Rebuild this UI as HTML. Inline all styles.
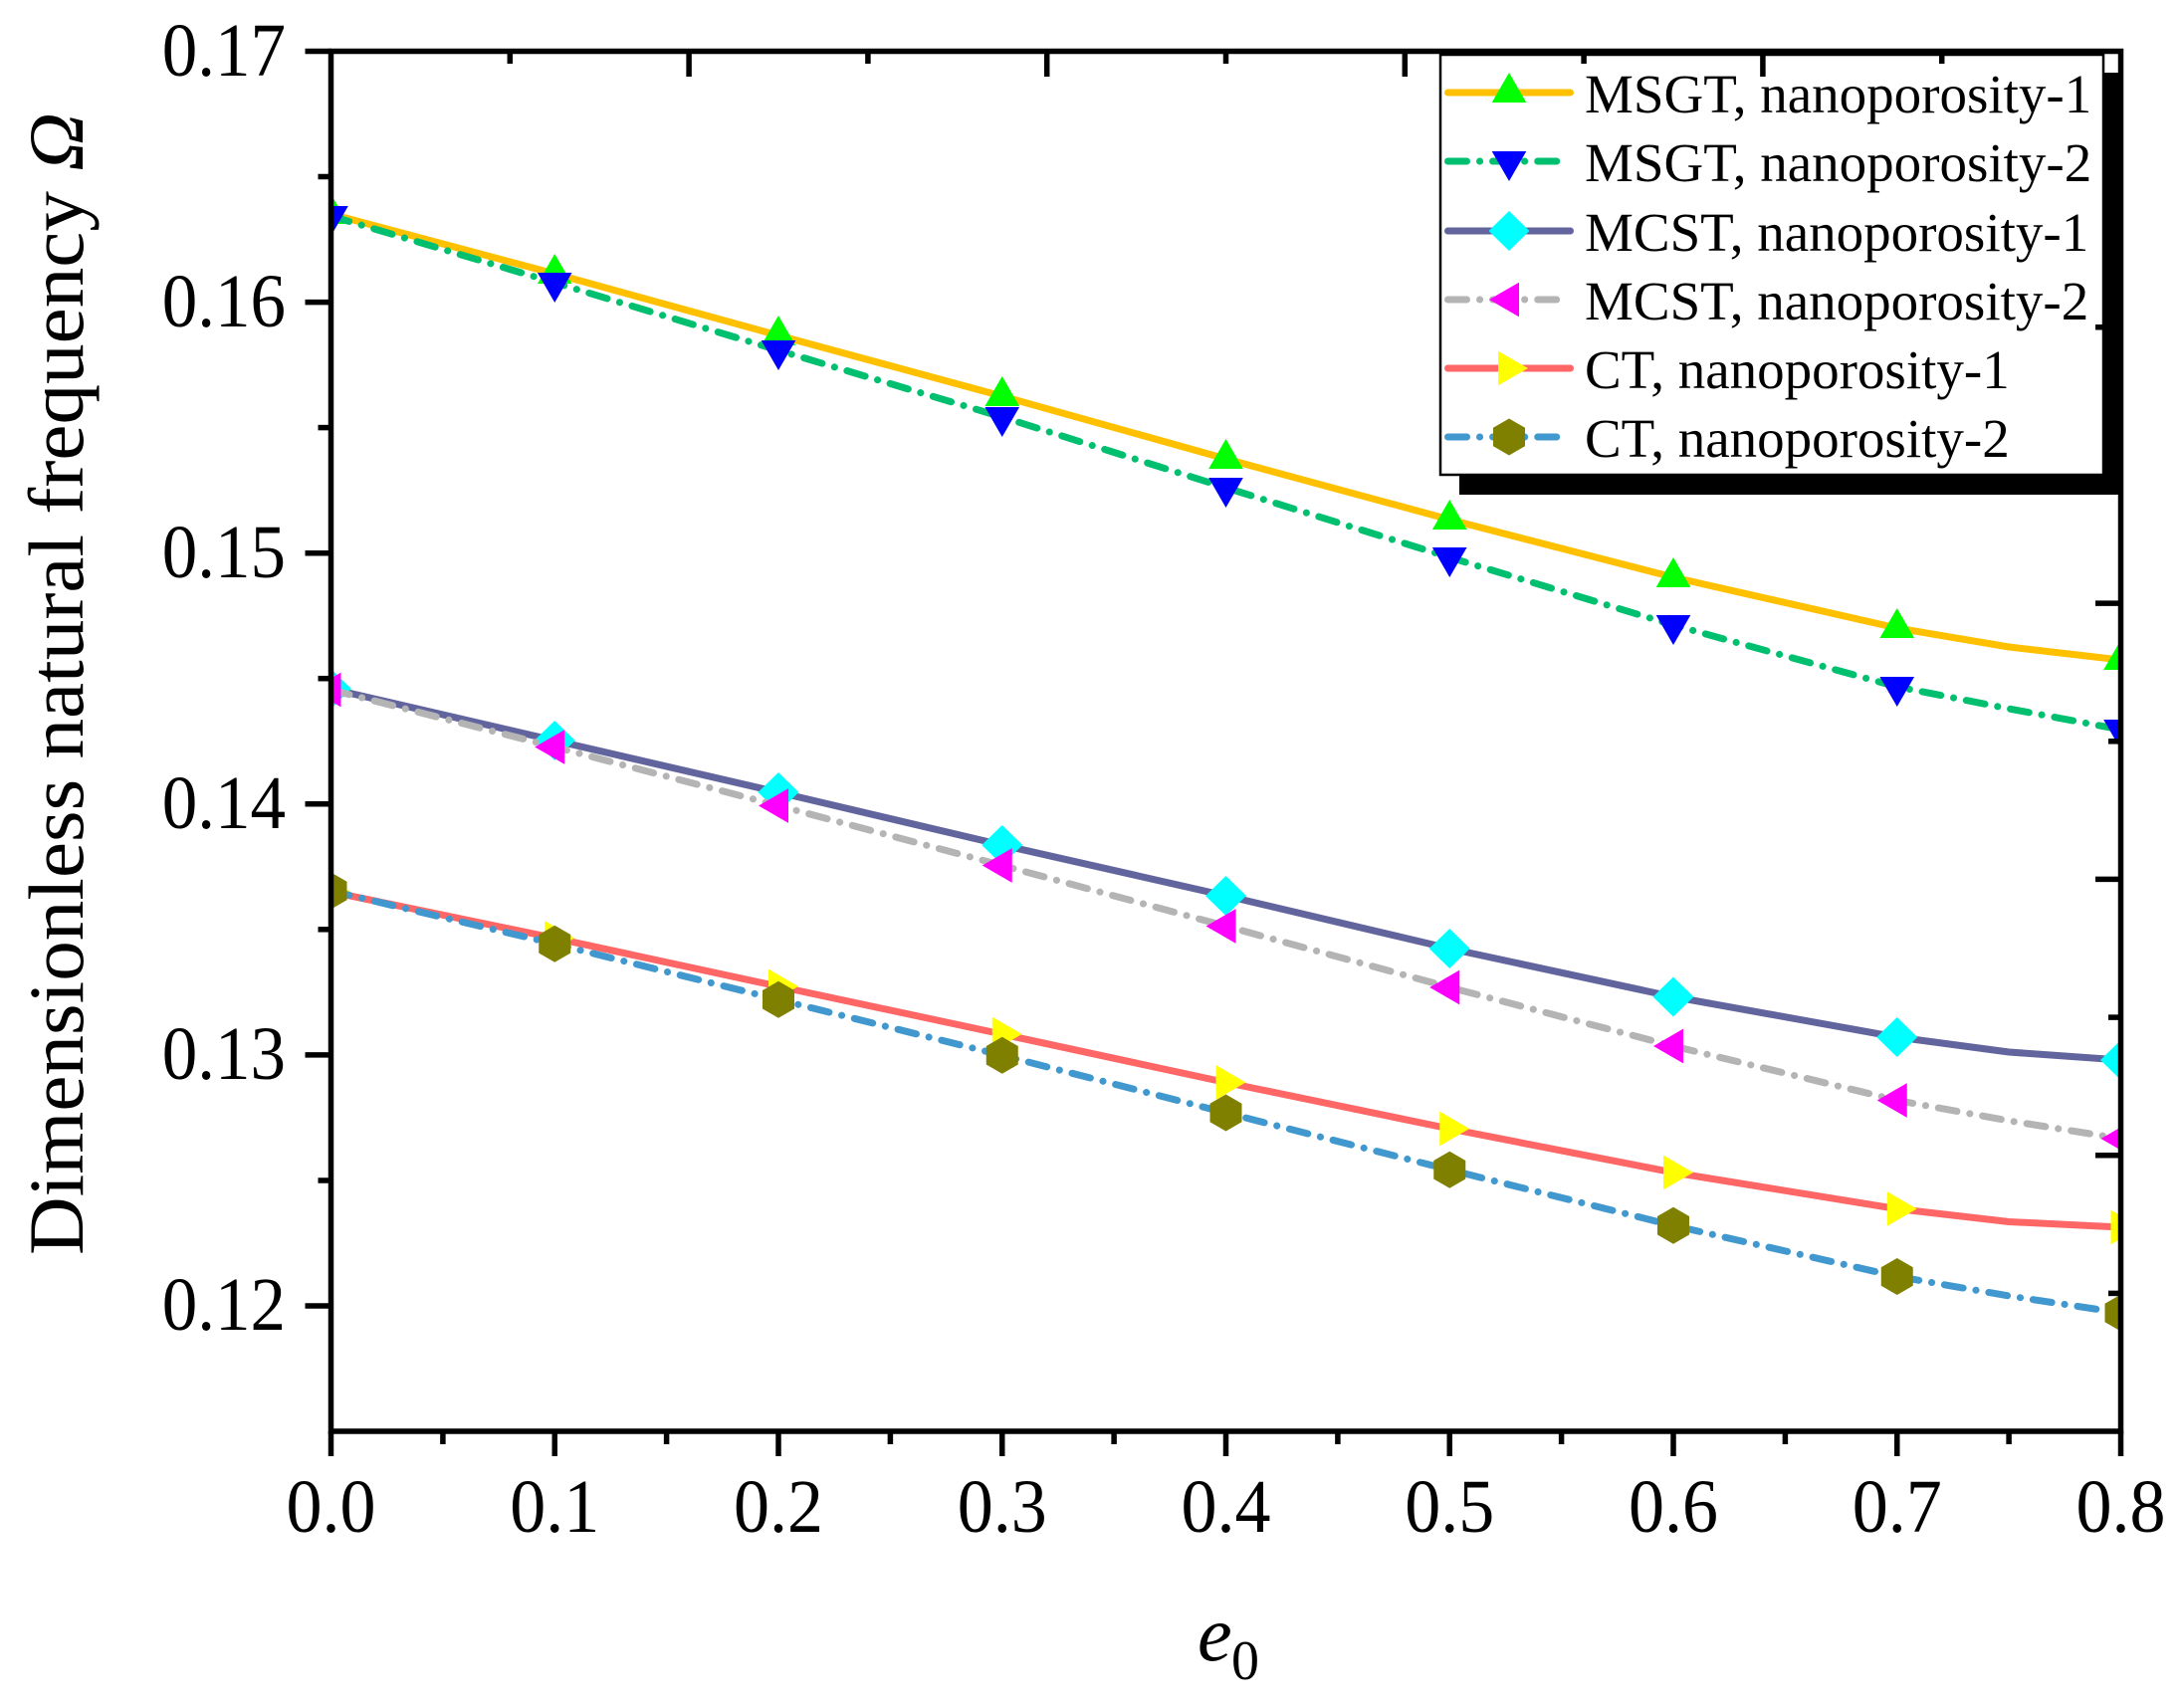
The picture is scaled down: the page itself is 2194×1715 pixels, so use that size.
<!DOCTYPE html>
<html>
<head>
<meta charset="utf-8">
<style>
  html, body { margin: 0; padding: 0; background: #ffffff; }
  svg { display: block; }
  text { font-family: "Liberation Serif", "DejaVu Serif", serif; fill: #000; }
</style>
</head>
<body>
<svg width="2194" height="1715" viewBox="0 0 2194 1715" xmlns="http://www.w3.org/2000/svg">
  <rect x="0" y="0" width="2194" height="1715" fill="#ffffff"/>
  <defs>
    <clipPath id="plot">
      <rect x="332.5" y="51.5" width="1798" height="1386.5"/>
    </clipPath>
  </defs>

  <g clip-path="url(#plot)">
    <!-- MSGT, nanoporosity-1 -->
    <polyline fill="none" stroke="#FFC000" stroke-width="7" stroke-linejoin="round"
      points="332.5,215 557.25,275 782,337 1006.75,398 1231.5,461 1456.25,522 1681,580 1905.75,631 2018.1,650 2130.5,663"/>
    <g fill="#00FF00">
      <polygon points="0,-20 17.32,10 -17.32,10" transform="translate(332.5,215)"/>
      <polygon points="0,-20 17.32,10 -17.32,10" transform="translate(557.25,275)"/>
      <polygon points="0,-20 17.32,10 -17.32,10" transform="translate(782,337)"/>
      <polygon points="0,-20 17.32,10 -17.32,10" transform="translate(1006.75,398)"/>
      <polygon points="0,-20 17.32,10 -17.32,10" transform="translate(1231.5,461)"/>
      <polygon points="0,-20 17.32,10 -17.32,10" transform="translate(1456.25,522)"/>
      <polygon points="0,-20 17.32,10 -17.32,10" transform="translate(1681,580)"/>
      <polygon points="0,-20 17.32,10 -17.32,10" transform="translate(1905.75,631)"/>
      <polygon points="0,-20 17.32,10 -17.32,10" transform="translate(2130.5,663)"/>
    </g>

    <!-- MSGT, nanoporosity-2 -->
    <polyline fill="none" stroke="#00C070" stroke-width="7" stroke-linecap="round" stroke-linejoin="round" stroke-dasharray="19 13 0.1 13"
      points="332.5,217 557.25,284 782,352 1006.75,419 1231.5,490 1456.25,560 1681,628 1905.75,690 2018.1,712 2130.5,733"/>
    <g fill="#0000FF">
      <polygon points="0,20 17.32,-10 -17.32,-10" transform="translate(332.5,217)"/>
      <polygon points="0,20 17.32,-10 -17.32,-10" transform="translate(557.25,284)"/>
      <polygon points="0,20 17.32,-10 -17.32,-10" transform="translate(782,352)"/>
      <polygon points="0,20 17.32,-10 -17.32,-10" transform="translate(1006.75,419)"/>
      <polygon points="0,20 17.32,-10 -17.32,-10" transform="translate(1231.5,490)"/>
      <polygon points="0,20 17.32,-10 -17.32,-10" transform="translate(1456.25,560)"/>
      <polygon points="0,20 17.32,-10 -17.32,-10" transform="translate(1681,628)"/>
      <polygon points="0,20 17.32,-10 -17.32,-10" transform="translate(1905.75,690)"/>
      <polygon points="0,20 17.32,-10 -17.32,-10" transform="translate(2130.5,733)"/>
    </g>

    <!-- MCST, nanoporosity-1 -->
    <polyline fill="none" stroke="#62649E" stroke-width="7" stroke-linejoin="round"
      points="332.5,692 557.25,744 782,796 1006.75,849 1231.5,900 1456.25,953 1681,1001.5 1905.75,1042 2018.1,1057 2130.5,1065"/>
    <g fill="#00FFFF">
      <polygon points="0,-20 20.5,0 0,20 -20.5,0" transform="translate(332.5,692)"/>
      <polygon points="0,-20 20.5,0 0,20 -20.5,0" transform="translate(557.25,744)"/>
      <polygon points="0,-20 20.5,0 0,20 -20.5,0" transform="translate(782,796)"/>
      <polygon points="0,-20 20.5,0 0,20 -20.5,0" transform="translate(1006.75,849)"/>
      <polygon points="0,-20 20.5,0 0,20 -20.5,0" transform="translate(1231.5,900)"/>
      <polygon points="0,-20 20.5,0 0,20 -20.5,0" transform="translate(1456.25,953)"/>
      <polygon points="0,-20 20.5,0 0,20 -20.5,0" transform="translate(1681,1001.5)"/>
      <polygon points="0,-20 20.5,0 0,20 -20.5,0" transform="translate(1905.75,1042)"/>
      <polygon points="0,-20 20.5,0 0,20 -20.5,0" transform="translate(2130.5,1065)"/>
    </g>

    <!-- MCST, nanoporosity-2 -->
    <polyline fill="none" stroke="#B4B4B4" stroke-width="7" stroke-linecap="round" stroke-linejoin="round" stroke-dasharray="19 13 0.1 13"
      points="332.5,693 557.25,750.5 782,809.5 1006.75,869.5 1231.5,930.5 1456.25,992 1681,1051 1905.75,1105.5 2018.1,1126 2130.5,1144"/>
    <g fill="#FF00FF">
      <polygon points="-20,0 10,-17.32 10,17.32" transform="translate(332.5,693)"/>
      <polygon points="-20,0 10,-17.32 10,17.32" transform="translate(557.25,750.5)"/>
      <polygon points="-20,0 10,-17.32 10,17.32" transform="translate(782,809.5)"/>
      <polygon points="-20,0 10,-17.32 10,17.32" transform="translate(1006.75,869.5)"/>
      <polygon points="-20,0 10,-17.32 10,17.32" transform="translate(1231.5,930.5)"/>
      <polygon points="-20,0 10,-17.32 10,17.32" transform="translate(1456.25,992)"/>
      <polygon points="-20,0 10,-17.32 10,17.32" transform="translate(1681,1051)"/>
      <polygon points="-20,0 10,-17.32 10,17.32" transform="translate(1905.75,1105.5)"/>
      <polygon points="-20,0 10,-17.32 10,17.32" transform="translate(2130.5,1144)"/>
    </g>

    <!-- CT, nanoporosity-1 -->
    <polyline fill="none" stroke="#FF6666" stroke-width="7" stroke-linejoin="round"
      points="332.5,896 557.25,942.5 782,991 1006.75,1039 1231.5,1087.5 1456.25,1134 1681,1178 1905.75,1214.5 2018.1,1227.5 2130.5,1233"/>
    <g fill="#FFFF00">
      <polygon points="20,0 -10,-17.32 -10,17.32" transform="translate(332.5,896)"/>
      <polygon points="20,0 -10,-17.32 -10,17.32" transform="translate(557.25,942.5)"/>
      <polygon points="20,0 -10,-17.32 -10,17.32" transform="translate(782,991)"/>
      <polygon points="20,0 -10,-17.32 -10,17.32" transform="translate(1006.75,1039)"/>
      <polygon points="20,0 -10,-17.32 -10,17.32" transform="translate(1231.5,1087.5)"/>
      <polygon points="20,0 -10,-17.32 -10,17.32" transform="translate(1456.25,1134)"/>
      <polygon points="20,0 -10,-17.32 -10,17.32" transform="translate(1681,1178)"/>
      <polygon points="20,0 -10,-17.32 -10,17.32" transform="translate(1905.75,1214.5)"/>
      <polygon points="20,0 -10,-17.32 -10,17.32" transform="translate(2130.5,1233)"/>
    </g>

    <!-- CT, nanoporosity-2 -->
    <polyline fill="none" stroke="#4098CF" stroke-width="7" stroke-linecap="round" stroke-linejoin="round" stroke-dasharray="19 13 0.1 13"
      points="332.5,895 557.25,948.3 782,1004.3 1006.75,1060.3 1231.5,1118 1456.25,1175.3 1681,1231.3 1905.75,1282.5 2018.1,1302 2130.5,1319"/>
    <g fill="#808000">
      <polygon points="0,-18.5 16,-9.25 16,9.25 0,18.5 -16,9.25 -16,-9.25" transform="translate(332.5,895)"/>
      <polygon points="0,-18.5 16,-9.25 16,9.25 0,18.5 -16,9.25 -16,-9.25" transform="translate(557.25,948.3)"/>
      <polygon points="0,-18.5 16,-9.25 16,9.25 0,18.5 -16,9.25 -16,-9.25" transform="translate(782,1004.3)"/>
      <polygon points="0,-18.5 16,-9.25 16,9.25 0,18.5 -16,9.25 -16,-9.25" transform="translate(1006.75,1060.3)"/>
      <polygon points="0,-18.5 16,-9.25 16,9.25 0,18.5 -16,9.25 -16,-9.25" transform="translate(1231.5,1118)"/>
      <polygon points="0,-18.5 16,-9.25 16,9.25 0,18.5 -16,9.25 -16,-9.25" transform="translate(1456.25,1175.3)"/>
      <polygon points="0,-18.5 16,-9.25 16,9.25 0,18.5 -16,9.25 -16,-9.25" transform="translate(1681,1231.3)"/>
      <polygon points="0,-18.5 16,-9.25 16,9.25 0,18.5 -16,9.25 -16,-9.25" transform="translate(1905.75,1282.5)"/>
      <polygon points="0,-18.5 16,-9.25 16,9.25 0,18.5 -16,9.25 -16,-9.25" transform="translate(2130.5,1319)"/>
    </g>
  </g>

  <!-- Legend -->
  <rect x="1466" y="73" width="667" height="424" fill="#000000"/>
  <rect x="1447" y="55" width="666" height="422" fill="#ffffff" stroke="#000000" stroke-width="2.5"/>

  <line x1="1454.5" y1="93" x2="1577.5" y2="93" stroke="#FFC000" stroke-width="7" stroke-linecap="round"/>
  <polygon points="0,-20 17.32,10 -17.32,10" transform="translate(1516,93)" fill="#00FF00"/>
  <text x="1592" y="113" font-size="55">MSGT, nanoporosity-1</text>

  <line x1="1454.5" y1="162" x2="1564" y2="162" stroke="#00C070" stroke-width="7" stroke-linecap="round" stroke-dasharray="19 13 0.1 13"/>
  <polygon points="0,20 17.32,-10 -17.32,-10" transform="translate(1516,162)" fill="#0000FF"/>
  <text x="1592" y="182" font-size="55">MSGT, nanoporosity-2</text>

  <line x1="1454.5" y1="232" x2="1577.5" y2="232" stroke="#62649E" stroke-width="7" stroke-linecap="round"/>
  <polygon points="0,-20 20.5,0 0,20 -20.5,0" transform="translate(1516,232)" fill="#00FFFF"/>
  <text x="1592" y="252" font-size="55">MCST, nanoporosity-1</text>

  <line x1="1454.5" y1="301" x2="1564" y2="301" stroke="#B4B4B4" stroke-width="7" stroke-linecap="round" stroke-dasharray="19 13 0.1 13"/>
  <polygon points="-20,0 10,-17.32 10,17.32" transform="translate(1516,301)" fill="#FF00FF"/>
  <text x="1592" y="321" font-size="55">MCST, nanoporosity-2</text>

  <line x1="1454.5" y1="370" x2="1577.5" y2="370" stroke="#FF6666" stroke-width="7" stroke-linecap="round"/>
  <polygon points="20,0 -10,-17.32 -10,17.32" transform="translate(1515,370)" fill="#FFFF00"/>
  <text x="1592" y="390" font-size="55">CT, nanoporosity-1</text>

  <line x1="1454.5" y1="439" x2="1564" y2="439" stroke="#4098CF" stroke-width="7" stroke-linecap="round" stroke-dasharray="19 13 0.1 13"/>
  <polygon points="0,-18.5 16,-9.25 16,9.25 0,18.5 -16,9.25 -16,-9.25" transform="translate(1516,439)" fill="#808000"/>
  <text x="1592" y="459" font-size="55">CT, nanoporosity-2</text>

  <!-- Axes frame -->
  <rect x="332.5" y="51.5" width="1798" height="1386.5" fill="none" stroke="#000000" stroke-width="5.5"/>

  <g stroke="#000000" stroke-width="5.5">
    <!-- left ticks (outward) -->
    <line x1="306.5" y1="51.5" x2="332.5" y2="51.5"/>
    <line x1="306.5" y1="303.6" x2="332.5" y2="303.6"/>
    <line x1="306.5" y1="555.7" x2="332.5" y2="555.7"/>
    <line x1="306.5" y1="807.8" x2="332.5" y2="807.8"/>
    <line x1="306.5" y1="1059.9" x2="332.5" y2="1059.9"/>
    <line x1="306.5" y1="1312" x2="332.5" y2="1312"/>
    <line x1="319.5" y1="177.5" x2="332.5" y2="177.5"/>
    <line x1="319.5" y1="429.6" x2="332.5" y2="429.6"/>
    <line x1="319.5" y1="681.7" x2="332.5" y2="681.7"/>
    <line x1="319.5" y1="933.8" x2="332.5" y2="933.8"/>
    <line x1="319.5" y1="1186" x2="332.5" y2="1186"/>

    <!-- bottom ticks (outward) -->
    <line x1="332.5" y1="1438" x2="332.5" y2="1463"/>
    <line x1="557.25" y1="1438" x2="557.25" y2="1463"/>
    <line x1="782" y1="1438" x2="782" y2="1463"/>
    <line x1="1006.75" y1="1438" x2="1006.75" y2="1463"/>
    <line x1="1231.5" y1="1438" x2="1231.5" y2="1463"/>
    <line x1="1456.25" y1="1438" x2="1456.25" y2="1463"/>
    <line x1="1681" y1="1438" x2="1681" y2="1463"/>
    <line x1="1905.75" y1="1438" x2="1905.75" y2="1463"/>
    <line x1="2130.5" y1="1438" x2="2130.5" y2="1463"/>
    <line x1="444.9" y1="1438" x2="444.9" y2="1451"/>
    <line x1="669.6" y1="1438" x2="669.6" y2="1451"/>
    <line x1="894.4" y1="1438" x2="894.4" y2="1451"/>
    <line x1="1119.1" y1="1438" x2="1119.1" y2="1451"/>
    <line x1="1343.9" y1="1438" x2="1343.9" y2="1451"/>
    <line x1="1568.6" y1="1438" x2="1568.6" y2="1451"/>
    <line x1="1793.4" y1="1438" x2="1793.4" y2="1451"/>
    <line x1="2018.1" y1="1438" x2="2018.1" y2="1451"/>

    <!-- top ticks (inward) -->
    <line x1="692.1" y1="51.5" x2="692.1" y2="77"/>
    <line x1="1051.7" y1="51.5" x2="1051.7" y2="77"/>
    <line x1="1411.3" y1="51.5" x2="1411.3" y2="77"/>
    <line x1="1770.9" y1="51.5" x2="1770.9" y2="77"/>
    <line x1="512.3" y1="51.5" x2="512.3" y2="64"/>
    <line x1="871.9" y1="51.5" x2="871.9" y2="64"/>
    <line x1="1231.5" y1="51.5" x2="1231.5" y2="64"/>
    <line x1="1591.1" y1="51.5" x2="1591.1" y2="64"/>
    <line x1="1950.7" y1="51.5" x2="1950.7" y2="64"/>

    <!-- right ticks (inward) -->
    <line x1="2105" y1="1160.7" x2="2130.5" y2="1160.7"/>
    <line x1="2105" y1="883.4" x2="2130.5" y2="883.4"/>
    <line x1="2105" y1="606.1" x2="2130.5" y2="606.1"/>
    <line x1="2105" y1="328.8" x2="2130.5" y2="328.8"/>
    <line x1="2118" y1="1299.4" x2="2130.5" y2="1299.4"/>
    <line x1="2118" y1="1022.1" x2="2130.5" y2="1022.1"/>
    <line x1="2118" y1="744.8" x2="2130.5" y2="744.8"/>
    <line x1="2118" y1="467.5" x2="2130.5" y2="467.5"/>
    <line x1="2118" y1="190.2" x2="2130.5" y2="190.2"/>
  </g>

  <!-- Y tick labels -->
  <g font-size="71" text-anchor="end">
    <text transform="translate(287,76) scale(1,1.07)">0.17</text>
    <text transform="translate(287,328) scale(1,1.07)">0.16</text>
    <text transform="translate(287,580) scale(1,1.07)">0.15</text>
    <text transform="translate(287,832) scale(1,1.07)">0.14</text>
    <text transform="translate(287,1084) scale(1,1.07)">0.13</text>
    <text transform="translate(287,1336) scale(1,1.07)">0.12</text>
  </g>

  <!-- X tick labels -->
  <g font-size="72" text-anchor="middle">
    <text transform="translate(332.5,1539) scale(1,1.06)">0.0</text>
    <text transform="translate(557.25,1539) scale(1,1.06)">0.1</text>
    <text transform="translate(782,1539) scale(1,1.06)">0.2</text>
    <text transform="translate(1006.75,1539) scale(1,1.06)">0.3</text>
    <text transform="translate(1231.5,1539) scale(1,1.06)">0.4</text>
    <text transform="translate(1456.25,1539) scale(1,1.06)">0.5</text>
    <text transform="translate(1681,1539) scale(1,1.06)">0.6</text>
    <text transform="translate(1905.75,1539) scale(1,1.06)">0.7</text>
    <text transform="translate(2130.5,1539) scale(1,1.06)">0.8</text>
  </g>

  <!-- X axis title -->
  <text x="1203" y="1668" font-size="78" font-style="italic">e</text>
  <text x="1237" y="1687" font-size="56">0</text>

  <!-- Y axis title -->
  <text transform="translate(83,1261) rotate(-90)" x="0" y="0" font-size="78" textLength="1148" lengthAdjust="spacingAndGlyphs">Dimensionless natural frequency <tspan font-style="italic">Ω</tspan></text>
</svg>
</body>
</html>
